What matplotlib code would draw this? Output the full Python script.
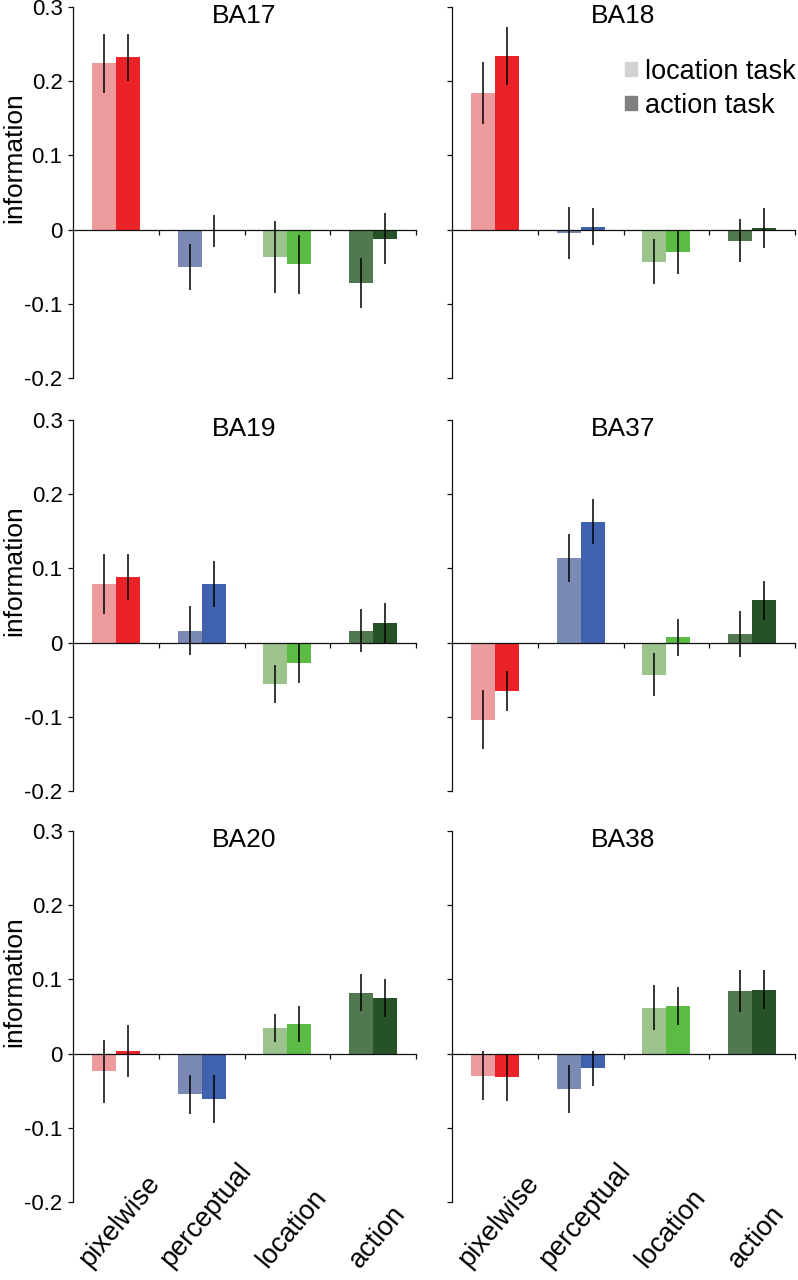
import numpy as np
import matplotlib
matplotlib.use("Agg")
import matplotlib.pyplot as plt
from matplotlib.patches import Patch

plt.rcParams['font.family'] = ['Liberation Sans', 'DejaVu Sans']

# models (x groups) and regions (panels)
models = ['pixelwise', 'perceptual', 'location', 'action']
regions = ['BA17', 'BA18', 'BA19', 'BA37', 'BA20', 'BA38']

# information values, location task / action task, with error bars
ba17_loc = [0.224, -0.050, -0.037, -0.072]
ba17_loc_err = [0.040, 0.031, 0.049, 0.034]
ba17_act = [0.232, -0.002, -0.047, -0.012]
ba17_act_err = [0.032, 0.022, 0.040, 0.035]

ba18_loc = [0.184, -0.004, -0.043, -0.015]
ba18_loc_err = [0.042, 0.035, 0.030, 0.029]
ba18_act = [0.234, 0.004, -0.030, 0.002]
ba18_act_err = [0.039, 0.025, 0.030, 0.027]

ba19_loc = [0.079, 0.016, -0.056, 0.016]
ba19_loc_err = [0.041, 0.033, 0.026, 0.029]
ba19_act = [0.089, 0.079, -0.028, 0.027]
ba19_act_err = [0.031, 0.031, 0.026, 0.027]

ba37_loc = [-0.104, 0.114, -0.043, 0.012]
ba37_loc_err = [0.040, 0.033, 0.029, 0.031]
ba37_act = [-0.065, 0.163, 0.007, 0.057]
ba37_act_err = [0.027, 0.030, 0.025, 0.026]

ba20_loc = [-0.024, -0.055, 0.034, 0.082]
ba20_loc_err = [0.042, 0.026, 0.019, 0.025]
ba20_act = [0.003, -0.061, 0.040, 0.075]
ba20_act_err = [0.035, 0.032, 0.024, 0.026]

ba38_loc = [-0.030, -0.048, 0.062, 0.084]
ba38_loc_err = [0.033, 0.032, 0.030, 0.028]
ba38_act = [-0.032, -0.020, 0.064, 0.086]
ba38_act_err = [0.032, 0.024, 0.026, 0.026]

loc_data = [ba17_loc, ba18_loc, ba19_loc, ba37_loc, ba20_loc, ba38_loc]
loc_errs = [ba17_loc_err, ba18_loc_err, ba19_loc_err, ba37_loc_err, ba20_loc_err, ba38_loc_err]
act_data = [ba17_act, ba18_act, ba19_act, ba37_act, ba20_act, ba38_act]
act_errs = [ba17_act_err, ba18_act_err, ba19_act_err, ba37_act_err, ba20_act_err, ba38_act_err]

yticks = [-0.2, -0.1, 0, 0.1, 0.2, 0.3]
ytick_labels = ['-0.2', '-0.1', '0', '0.1', '0.2', '0.3']

light_colors = ['#ee9b9d', '#7a8ab4', '#9dc38c', '#52784f']
dark_colors = ['#eb2328', '#4062ae', '#5cbc45', '#275228']

W, H = 798, 1280
fig = plt.figure(figsize=(W / 100, H / 100), dpi=100)

lefts = [73, 452]
tops = [7, 420, 831]
aw, ah = 343, 371
bw = 0.28
x = np.arange(len(models))

for k, name in enumerate(regions):
    row, col = k // 2, k % 2
    ax = fig.add_axes([lefts[col] / W, 1 - (tops[row] + ah) / H, aw / W, ah / H])

    ax.bar(x - bw / 2, loc_data[k], bw, color=light_colors, yerr=loc_errs[k],
           error_kw=dict(ecolor='black', elinewidth=1.1, capsize=0))
    ax.bar(x + bw / 2, act_data[k], bw, color=dark_colors, yerr=act_errs[k],
           error_kw=dict(ecolor='black', elinewidth=1.1, capsize=0))

    ax.set_xlim(-0.5, 3.5)
    ax.set_ylim(-0.2, 0.3)
    ax.spines['top'].set_visible(False)
    ax.spines['right'].set_visible(False)
    ax.spines['bottom'].set_position(('data', 0))
    for s in ['left', 'bottom']:
        ax.spines[s].set_linewidth(0.9)
        ax.spines[s].set_color('#111111')

    ax.set_xticks(x + 0.5)
    ax.set_xticklabels([])
    ax.tick_params(axis='x', direction='out', length=3.5, width=0.9, color='#111111')
    ax.set_yticks(yticks)
    if col == 0:
        ax.set_yticklabels(ytick_labels)
        ax.text(-0.17, 0.595, 'information', transform=ax.transAxes, rotation=90,
                ha='center', va='center', fontsize=19)
    else:
        ax.set_yticklabels([])
    ax.tick_params(axis='y', direction='out', length=3.5, width=0.9, color='#111111',
                   labelsize=16, pad=4)

    ax.text(0.5, 0.975, name, transform=ax.transAxes, ha='center', va='center', fontsize=19)

    if row == 2:
        for i, m in enumerate(models):
            ax.text(i + 0.05, -0.19, m, transform=ax.get_xaxis_transform(), rotation=50,
                    ha='center', va='bottom', fontsize=19.5)

    if name == 'BA18':
        handles = [Patch(color='#d2d2d2'), Patch(color='#808080')]
        ax.legend(handles, ['location task', 'action task'], loc='upper left',
                  bbox_to_anchor=(0.505, 0.86), frameon=False, fontsize=19.5,
                  handlelength=0.42, handleheight=0.42, handletextpad=0.3,
                  labelspacing=0.3, borderpad=0, borderaxespad=0)

fig.savefig('out.png', dpi=100)
